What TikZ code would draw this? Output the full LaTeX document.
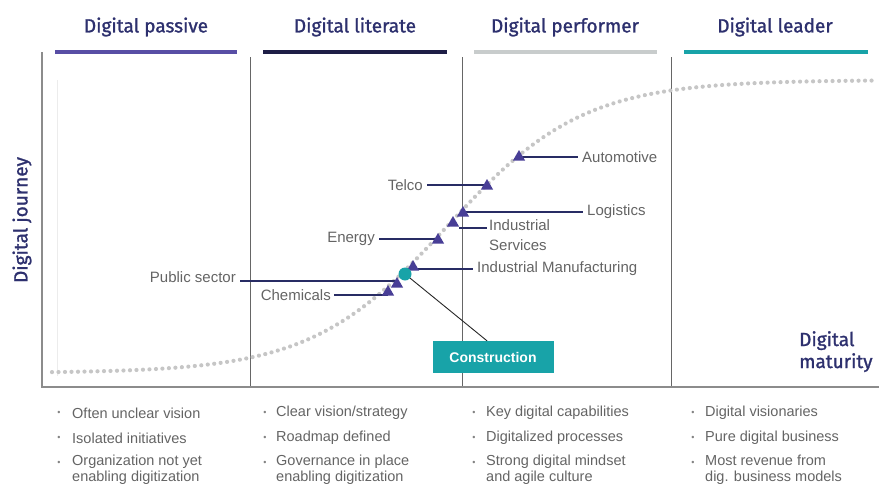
\documentclass[tikz,border=0pt]{standalone}
\usepackage{fontspec}
\setmainfont{Liberation Sans}
\newfontfamily\headfont{Fira Sans}[FakeBold=1.3]
\usetikzlibrary{shapes.geometric,backgrounds}
\definecolor{navy}{RGB}{40,44,100}
\definecolor{hdr}{RGB}{45,48,110}
\definecolor{purp}{RGB}{88,78,165}
\definecolor{darknavy}{RGB}{30,30,70}
\definecolor{lgray}{RGB}{200,204,204}
\definecolor{tealc}{RGB}{24,163,168}
\definecolor{tric}{RGB}{72,62,150}
\definecolor{lblc}{RGB}{100,100,100}
\definecolor{axisc}{RGB}{140,140,140}
\begin{document}
\begin{tikzpicture}[x=1pt,y=-1pt,
  head/.style={font=\headfont\fontsize{19}{21}\selectfont, text=hdr, inner sep=0},
  bar/.style={line width=3.5pt},
  lbl/.style={font=\fontsize{15}{18}\selectfont, text=lblc, inner sep=0},
  conn/.style={draw=navy, line width=1.3pt},
  marker/.style={regular polygon, regular polygon sides=3, fill=tric, minimum size=14pt, inner sep=0},
  blt/.style={font=\fontsize{14.5}{16}\selectfont, text=lblc, inner sep=0, align=left},
  dot/.style={font=\fontsize{9}{10}\selectfont, text=lblc!80, inner sep=0},
  divider/.style={draw=gray!80!black, line width=0.8pt}
]
\useasboundingbox (0,0) rectangle (879,501);

% headers
\node[head] (h1) at (146,27) {Digital passive};
\node[head] (h2) at (355,27) {Digital literate};
\node[head] (h3) at (565,27) {Digital performer};
\node[head] (h4) at (775,27) {Digital leader};
\draw[bar, draw=purp] (55,52) -- (237,52);
\draw[bar, draw=darknavy] (263,52) -- (447,52);
\draw[bar, draw=lgray] (474,52) -- (657,52);
\draw[bar, draw=tealc] (684,52) -- (868,52);

% dividers
\draw[divider] (250,57) -- (250,386);
\draw[divider] (462,57) -- (462,386);
\draw[divider] (671,57) -- (671,386);
\draw[draw=gray!15, line width=0.8pt] (57,80) -- (57,376);

% axes
\draw[draw=axisc, line width=2.8pt] (42,52) -- (42,387) -- (879,387);

% curve
\draw[gray!45, line width=4.2pt, dash pattern=on 0pt off 6.5pt, line cap=round]
  plot[domain=52:872, samples=140] (\x,{373-293/(1+exp(-(\x-447)/68))});

% axis titles
\node[head, rotate=90] (yl) at (22,220) {Digital journey};
\node[head, anchor=north west, align=left, font=\headfont\fontsize{19}{22}\selectfont] (xl) at (799,331) {Digital\\maturity};

% labels
\node[lbl, anchor=west] (lAuto) at (582,157) {Automotive};
\node[lbl, anchor=east] (lTel) at (423,185) {Telco};
\node[lbl, anchor=west] (lLog) at (587,212) {Logistics};
\node[lbl, anchor=north west, align=left, font=\fontsize{15}{20}\selectfont] (lSer) at (489,219) {Industrial\\Services};
\node[lbl, anchor=east] (lEne) at (375,239) {Energy};
\node[lbl, anchor=west] (lMan) at (477,269) {Industrial Manufacturing};
\node[lbl, anchor=east] (lPub) at (236,277) {Public sector};
\node[lbl, anchor=east] (lChe) at (331,295) {Chemicals};

% positions
\coordinate (pAuto) at (519,157);
\coordinate (pTel) at (487,186);
\coordinate (pLog) at (463,213);
\coordinate (pSer) at (453,223);
\coordinate (pEne) at (438,240);
\coordinate (pMan) at (413,267);
\coordinate (pPub) at (397,284);
\coordinate (pChe) at (388,292);
\coordinate (pCon) at (405,274);
\coordinate (sEnd) at (487,228);

% construction box
\node[fill=tealc, text=white, minimum width=121pt, minimum height=32pt, inner sep=0,
      font=\bfseries\fontsize{14}{16}\selectfont] (con) at (493,357) {Construction};

% connectors
\draw[conn] (lAuto.west -| pAuto) -- ([xshift=-4pt]lAuto.west);
\draw[conn] ([xshift=4pt]lTel.east) -- (lTel.east -| pTel);
\draw[conn] (lLog.west -| pLog) -- ([xshift=-4pt]lLog.west);
\draw[conn] ([xshift=6pt]sEnd -| pSer) -- (sEnd);
\draw[conn] ([xshift=4pt]lEne.east) -- (lEne.east -| pEne);
\draw[conn] (lMan.west -| pMan) -- ([xshift=-4pt]lMan.west);
\draw[conn] ([xshift=4pt]lPub.east |- 0,281) -- (pPub |- 0,281);
\draw[conn] ([xshift=3pt]lChe.east) -- (lChe.east -| pChe);
\draw[draw=gray!30!black, line width=0.9pt] (pCon) -- ([xshift=-6pt]con.north);

% markers
\node[marker] (tAuto) at (pAuto) {};
\node[marker] (tTel) at (pTel) {};
\node[marker] (tLog) at (pLog) {};
\node[marker] (tSer) at (pSer) {};
\node[marker] (tEne) at (pEne) {};
\node[marker] (tMan) at (pMan) {};
\node[marker] (tPub) at (pPub) {};
\node[marker] (tChe) at (pChe) {};
\node[circle, fill=tealc, minimum size=13pt, inner sep=0] (cCon) at (pCon) {};

% bullets column 1
\node[dot] (b11) at (59,413) {•};
\node[blt, anchor=west] (x11) at (72,413) {Often unclear vision};
\node[dot] (b12) at (59,438) {•};
\node[blt, anchor=west] (x12) at (72,438) {Isolated initiatives};
\node[dot] (b13) at (59,463) {•};
\node[blt, anchor=north west] (x13) at (72,455) {Organization not yet\\enabling digitization};
% column 2
\node[dot] (b21) at (265,413) {•};
\node[blt, anchor=west] (x21) at (276,413) {Clear vision/strategy};
\node[dot] (b22) at (265,438) {•};
\node[blt, anchor=west] (x22) at (276,438) {Roadmap defined};
\node[dot] (b23) at (265,463) {•};
\node[blt, anchor=north west] (x23) at (276,455) {Governance in place\\enabling digitization};
% column 3
\node[dot] (b31) at (474,413) {•};
\node[blt, anchor=west] (x31) at (486,413) {Key digital capabilities};
\node[dot] (b32) at (474,438) {•};
\node[blt, anchor=west] (x32) at (486,438) {Digitalized processes};
\node[dot] (b33) at (474,463) {•};
\node[blt, anchor=north west] (x33) at (486,455) {Strong digital mindset\\and agile culture};
% column 4
\node[dot] (b41) at (693,413) {•};
\node[blt, anchor=west] (x41) at (705,413) {Digital visionaries};
\node[dot] (b42) at (693,438) {•};
\node[blt, anchor=west] (x42) at (705,438) {Pure digital business};
\node[dot] (b43) at (693,463) {•};
\node[blt, anchor=north west] (x43) at (705,455) {Most revenue from\\dig. business models};
\end{tikzpicture}
\end{document}
